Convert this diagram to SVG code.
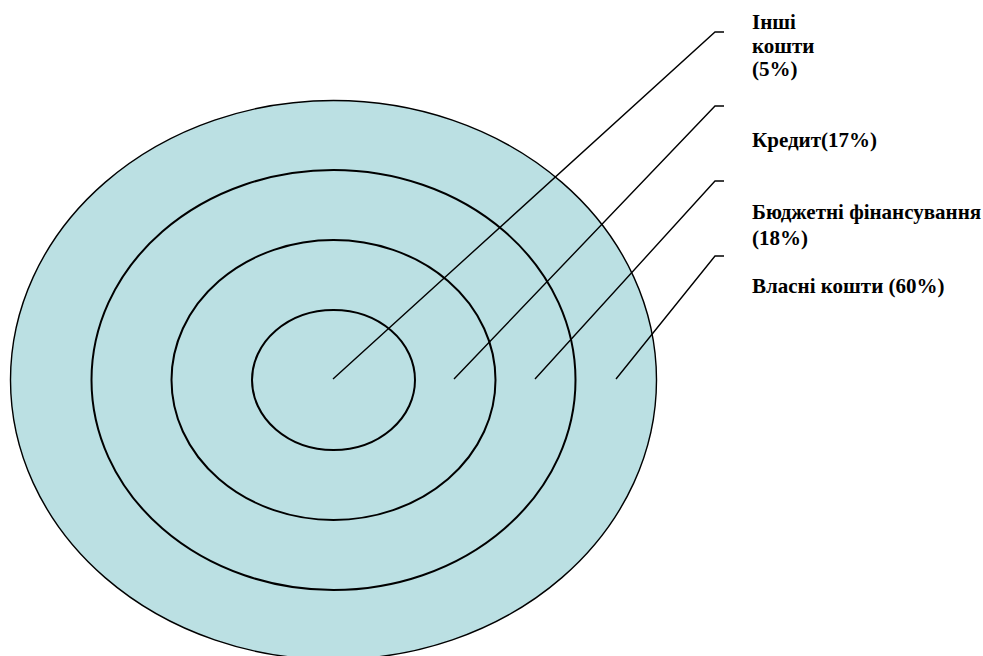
<svg xmlns="http://www.w3.org/2000/svg" width="983" height="656" viewBox="0 0 983 656">
<style>
.ring{fill:none;stroke:#000;stroke-width:2}
.lead{fill:none;stroke:#000;stroke-width:1.4}
.lbl{font-family:"Liberation Serif","Times New Roman",serif;font-weight:bold;font-size:21px;fill:#000}
</style>
<rect width="983" height="656" fill="#fff"/>
<g id="ring-own">
<ellipse cx="333.5" cy="380" rx="323" ry="279.5" fill="#BBE0E3" stroke="#000" stroke-width="1.4"/>
</g>
<g id="ring-budget">
<ellipse class="ring" cx="333.5" cy="380" rx="242" ry="210"/>
</g>
<g id="ring-credit">
<ellipse class="ring" cx="333.5" cy="380" rx="162" ry="140"/>
</g>
<g id="ring-other">
<ellipse class="ring" cx="333.5" cy="380" rx="81.5" ry="70"/>
</g>
<g id="connectors">
<polyline class="lead" points="333,379 715,32 724,32"/>
<polyline class="lead" points="454,379 715,106 724,106"/>
<polyline class="lead" points="535,379 715,181 724,181"/>
<polyline class="lead" points="616,379 715,256 724,256"/>
</g>
<g id="label-other">
<text class="lbl" x="752" y="29">Інші</text>
<text class="lbl" x="752" y="52.5">кошти</text>
<text class="lbl" x="752" y="76">(5%)</text>
</g>
<g id="label-credit">
<text class="lbl" x="752" y="147">Кредит(17%)</text>
</g>
<g id="label-budget">
<text class="lbl" x="752" y="219">Бюджетні фінансування</text>
<text class="lbl" x="752" y="245">(18%)</text>
</g>
<g id="label-own">
<text class="lbl" x="752" y="293">Власні кошти (60%)</text>
</g>
</svg>
